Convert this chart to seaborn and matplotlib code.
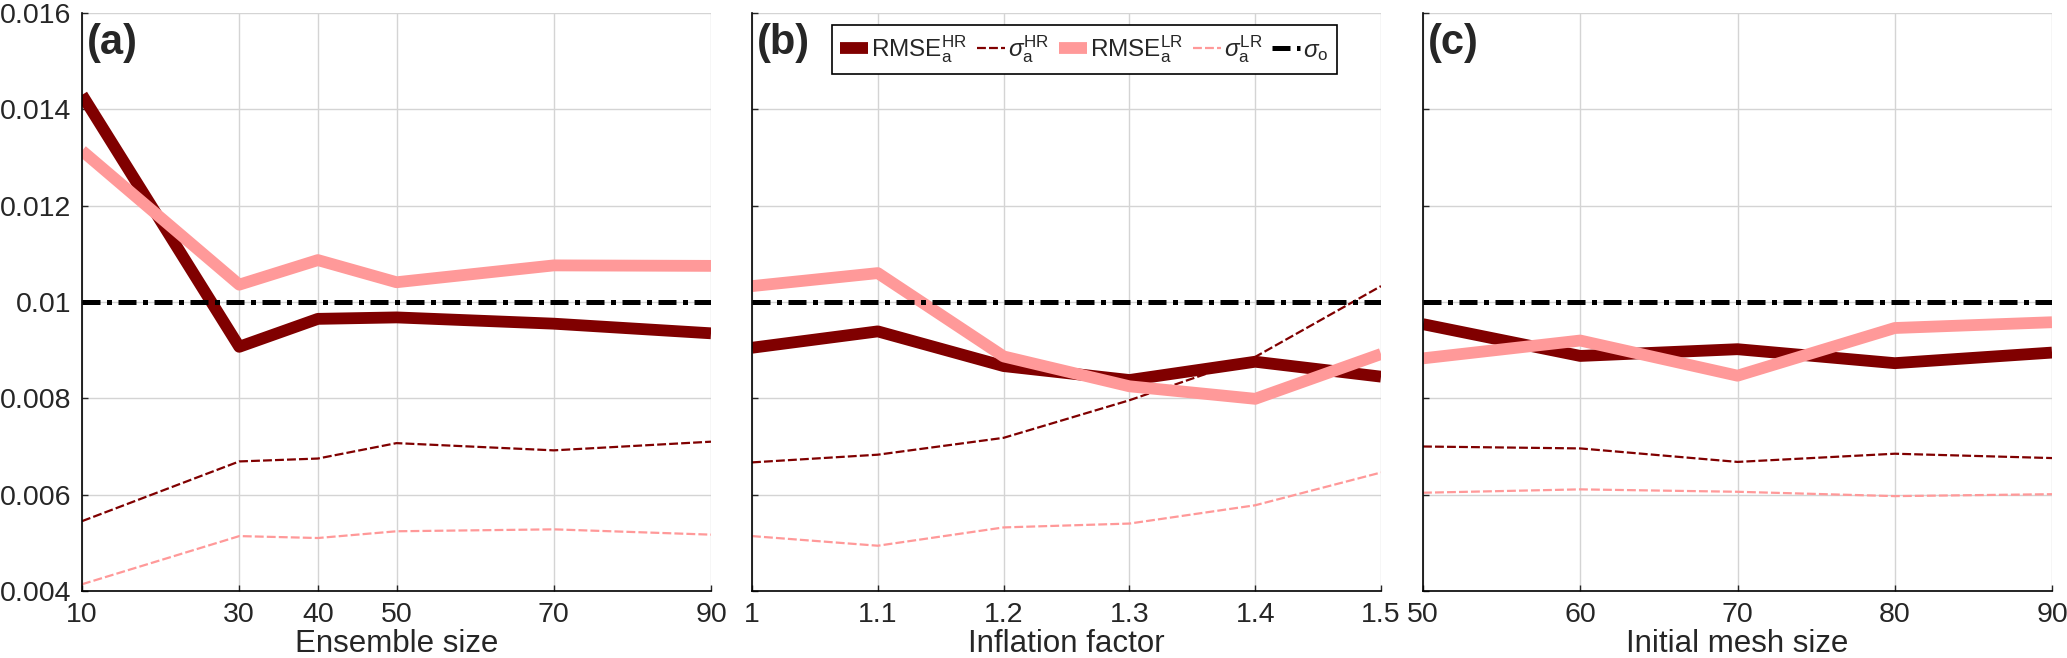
import matplotlib
matplotlib.use("Agg")
import matplotlib.pyplot as plt
import seaborn as sns
import pandas as pd

# panel (a): ensemble size
ens_size = [10, 30, 40, 50, 70, 90]
ens_rmse_hr = [0.0143, 0.00907, 0.00965, 0.00968, 0.00955, 0.00935]
ens_sigma_hr = [0.00545, 0.00669, 0.00675, 0.00707, 0.00692, 0.00710]
ens_rmse_lr = [0.01314, 0.01036, 0.01087, 0.01041, 0.01076, 0.01075]
ens_sigma_lr = [0.00414, 0.00514, 0.00510, 0.00524, 0.00528, 0.00517]

# panel (b): inflation factor
infl = [1.0, 1.1, 1.2, 1.3, 1.4, 1.5]
infl_rmse_hr = [0.00905, 0.00939, 0.00867, 0.00838, 0.00876, 0.00845]
infl_sigma_hr = [0.00667, 0.00683, 0.00718, 0.00796, 0.00886, 0.01033]
infl_rmse_lr = [0.01033, 0.01060, 0.00887, 0.00825, 0.00799, 0.00892]
infl_sigma_lr = [0.00514, 0.00494, 0.00532, 0.00540, 0.00578, 0.00646]

# panel (c): initial mesh size
mesh = [50, 60, 70, 80, 90]
mesh_rmse_hr = [0.00954, 0.00888, 0.00902, 0.00873, 0.00895]
mesh_sigma_hr = [0.00700, 0.00696, 0.00668, 0.00685, 0.00676]
mesh_rmse_lr = [0.00883, 0.00920, 0.00847, 0.00946, 0.00958]
mesh_sigma_lr = [0.00604, 0.00611, 0.00606, 0.00597, 0.00601]

sigma_o = 0.01

xlabels = ["Ensemble size", "Inflation factor", "Initial mesh size"]
panel_tags = ["(a)", "(b)", "(c)"]
xticks = [ens_size, infl, mesh]
xticklabels = [["10", "30", "40", "50", "70", "90"],
               ["1", "1.1", "1.2", "1.3", "1.4", "1.5"],
               ["50", "60", "70", "80", "90"]]
yticks = [0.004, 0.006, 0.008, 0.01, 0.012, 0.014, 0.016]
yticklabels = ["0.004", "0.006", "0.008", "0.01", "0.012", "0.014", "0.016"]

panels = [
    (ens_size, ens_rmse_hr, ens_sigma_hr, ens_rmse_lr, ens_sigma_lr),
    (infl, infl_rmse_hr, infl_sigma_hr, infl_rmse_lr, infl_sigma_lr),
    (mesh, mesh_rmse_hr, mesh_sigma_hr, mesh_rmse_lr, mesh_sigma_lr),
]

sns.set_style("ticks")
plt.rcParams["font.family"] = ["Liberation Sans", "DejaVu Sans"]
plt.rcParams["mathtext.fontset"] = "custom"
plt.rcParams["mathtext.rm"] = "Liberation Sans"
plt.rcParams["mathtext.it"] = "Liberation Sans:italic"
plt.rcParams["mathtext.bf"] = "Liberation Sans:bold"

dark = "#800000"
pink = "#ff9999"

W, H = 2067, 658
fig = plt.figure(figsize=(W / 100, H / 100), dpi=100)
lefts = [82, 752, 1423]

for i, (x, rhr, shr, rlr, slr) in enumerate(panels):
    ax = fig.add_axes([lefts[i] / W, 67 / H, 629 / W, 578 / H])
    df = pd.DataFrame({"x": x, "rhr": rhr, "shr": shr, "rlr": rlr, "slr": slr,
                       "so": [sigma_o] * len(x)})
    sns.lineplot(data=df, x="x", y="rhr", ax=ax, color=dark, lw=8.5,
                 label=r"RMSE$_\mathrm{a}^\mathrm{HR}$", legend=False)
    sns.lineplot(data=df, x="x", y="shr", ax=ax, color=dark, lw=1.6,
                 linestyle=(0, (4, 1.4)), label=r"$\sigma_\mathrm{a}^\mathrm{HR}$", legend=False)
    sns.lineplot(data=df, x="x", y="rlr", ax=ax, color=pink, lw=8.5,
                 label=r"RMSE$_\mathrm{a}^\mathrm{LR}$", legend=False)
    sns.lineplot(data=df, x="x", y="slr", ax=ax, color=pink, lw=1.6,
                 linestyle=(0, (4, 1.4)), label=r"$\sigma_\mathrm{a}^\mathrm{LR}$", legend=False)
    sns.lineplot(data=df, x="x", y="so", ax=ax, color="black", lw=3.6,
                 linestyle=(0, (3.6, 1.3, 1.0, 1.3)), label=r"$\sigma_\mathrm{o}$", legend=False)
    for ln in ax.get_lines():
        ln.set_solid_capstyle("butt")
        ln.set_dash_capstyle("butt")

    ax.set_xlim(x[0], x[-1])
    ax.set_ylim(0.004, 0.016)
    ax.set_xticks(xticks[i])
    ax.set_xticklabels(xticklabels[i])
    ax.set_yticks(yticks)
    if i == 0:
        ax.set_yticklabels(yticklabels)
    else:
        ax.set_yticklabels([])
    ax.grid(True, color="#d4d4d4", lw=1.0)
    ax.set_axisbelow(True)
    for s in ["top", "right"]:
        ax.spines[s].set_visible(False)
    for s in ["left", "bottom"]:
        ax.spines[s].set_color("black")
        ax.spines[s].set_linewidth(1.2)
    ax.tick_params(direction="in", length=4.5, width=1.0, labelsize=20.5)
    ax.tick_params(axis="y", pad=8)
    ax.tick_params(axis="x", pad=8)
    ax.set_xlabel(xlabels[i], fontsize=22.5)
    ax.xaxis.set_label_coords(0.5, -0.066)
    ax.set_ylabel("")
    ax.text(0.008, 0.983, panel_tags[i], transform=ax.transAxes, fontsize=30,
            fontweight="bold", va="top", ha="left")

    if i == 1:
        leg = ax.legend(loc="upper left", bbox_to_anchor=(0.127, 0.979), ncol=5,
                        fontsize=17.5, handlelength=1.15, handletextpad=0.12,
                        columnspacing=0.4, borderpad=0.35, borderaxespad=0,
                        fancybox=False, framealpha=1, edgecolor="black")
        leg.get_frame().set_linewidth(1.2)

fig.savefig("out.png", dpi=100)
